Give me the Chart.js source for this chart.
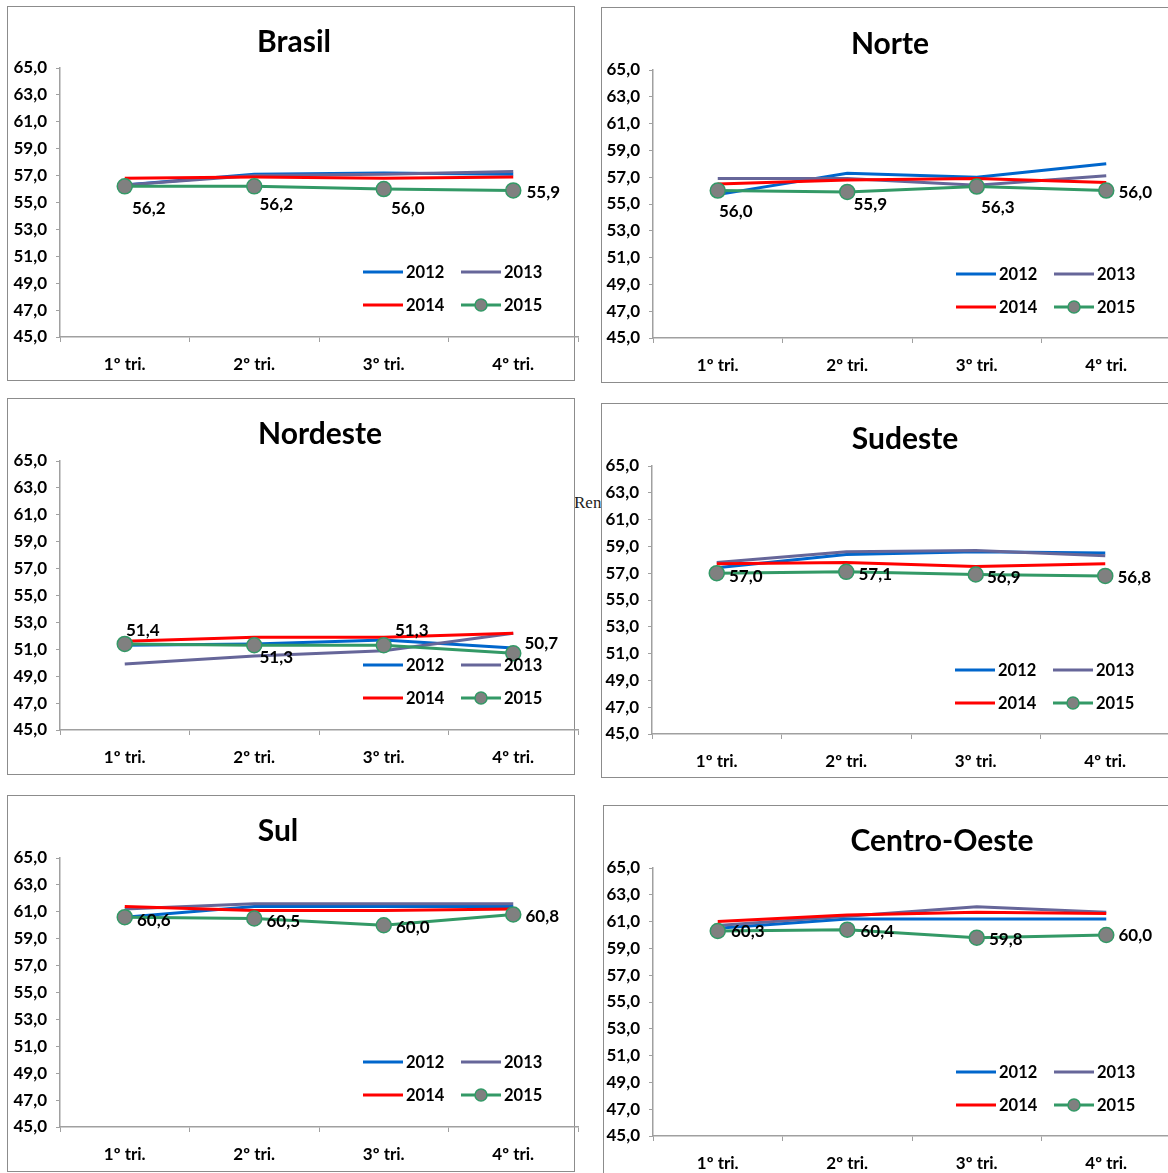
<!DOCTYPE html>
<html>
<head>
<meta charset="utf-8">
<script src="https://cdn.jsdelivr.net/npm/chart.js@4.4.1/dist/chart.umd.min.js"></script>
<style>
  html, body { margin: 0; padding: 0; background: #fff; }
  body { width: 1168px; height: 1173px; position: relative; overflow: hidden; }
  .panel { position: absolute; border: 1.5px solid #8c8c8c; background: #fff; box-sizing: border-box; z-index: 1; }
  canvas { position: absolute; z-index: 2; }
  .stray { position: absolute; left: 574px; top: 493px; font: 17px "Liberation Serif", serif; color: #222; z-index: 0; }
</style>
</head>
<body>
<div class="stray">Rendimento</div>
<script>
const quarters = ['1º tri.', '2º tri.', '3º tri.', '4º tri.'];
const years = ['2012', '2013', '2014', '2015'];
const yTicks = [45, 47, 49, 51, 53, 55, 57, 59, 61, 63, 65];

const brasil2012 = [56.3, 57.1, 57.2, 57.1];
const brasil2013 = [56.3, 57.0, 57.1, 57.3];
const brasil2014 = [56.8, 56.9, 56.8, 56.9];
const brasil2015 = [56.2, 56.2, 56.0, 55.9];

const norte2012 = [55.7, 57.3, 57.0, 58.0];
const norte2013 = [56.9, 56.9, 56.4, 57.1];
const norte2014 = [56.5, 56.8, 56.9, 56.6];
const norte2015 = [56.0, 55.9, 56.3, 56.0];

const nordeste2012 = [51.3, 51.4, 51.7, 51.1];
const nordeste2013 = [49.9, 50.5, 50.9, 52.2];
const nordeste2014 = [51.6, 51.9, 51.9, 52.2];
const nordeste2015 = [51.4, 51.3, 51.3, 50.7];

const sudeste2012 = [57.4, 58.4, 58.6, 58.5];
const sudeste2013 = [57.8, 58.6, 58.7, 58.3];
const sudeste2014 = [57.7, 57.8, 57.5, 57.7];
const sudeste2015 = [57.0, 57.1, 56.9, 56.8];

const sul2012 = [60.6, 61.4, 61.4, 61.4];
const sul2013 = [61.2, 61.6, 61.6, 61.6];
const sul2014 = [61.4, 61.1, 61.1, 61.2];
const sul2015 = [60.6, 60.5, 60.0, 60.8];

const centro2012 = [60.5, 61.2, 61.2, 61.2];
const centro2013 = [60.7, 61.4, 62.1, 61.7];
const centro2014 = [61.0, 61.5, 61.7, 61.6];
const centro2015 = [60.3, 60.4, 59.8, 60.0];

const colors = ['#0066CC', '#666699', '#FF0000', '#339966'];
const fontFamily = 'Lato, "Open Sans", sans-serif';
const axisColor = '#a0a0a0';

// layout of each chart box on the page (borders, axis origin, title spot, data label offsets)
const panels = [
  { title: 'Brasil', series: [brasil2012, brasil2013, brasil2014, brasil2015],
    box: [7, 6, 568, 375], axisX: 60, top: 68, bottom: 337, titleAt: [294, 42],
    labelOff: [[24, 22], [22, 18], [24, 19], [30, 2]] },
  { title: 'Norte', series: [norte2012, norte2013, norte2014, norte2015],
    box: [601, 7, 600, 376], axisX: 653, top: 70, bottom: 338, titleAt: [890, 44],
    labelOff: [[18, 21], [23, 13], [21, 21], [29, 2]] },
  { title: 'Nordeste', series: [nordeste2012, nordeste2013, nordeste2014, nordeste2015],
    box: [7, 398, 568, 377], axisX: 60, top: 461, bottom: 730, titleAt: [320, 434],
    labelOff: [[18, -13], [22, 12], [28, -15], [28, -10]] },
  { title: 'Sudeste', series: [sudeste2012, sudeste2013, sudeste2014, sudeste2015],
    box: [601, 403, 600, 375], axisX: 652, top: 466, bottom: 734, titleAt: [905, 439],
    labelOff: [[29, 3], [29, 3], [28, 3], [29, 2]] },
  { title: 'Sul', series: [sul2012, sul2013, sul2014, sul2015],
    box: [7, 795, 568, 377], axisX: 60, top: 858, bottom: 1127, titleAt: [278, 831],
    labelOff: [[29, 3], [29, 3], [29, 2], [29, 2]] },
  { title: 'Centro-Oeste', series: [centro2012, centro2013, centro2014, centro2015],
    box: [603, 805, 600, 400], axisX: 653, top: 868, bottom: 1136, titleAt: [942, 841],
    labelOff: [[30, 1], [30, 2], [29, 2], [29, 1]] },
];

const fmt = (v) => v.toFixed(1).replace('.', ',');

// title, 2x2 legend and the 2015 value labels
const panelDecor = {
  id: 'panelDecor',
  afterDatasetsDraw(chart, args, opts) {
    const ctx = chart.ctx;
    const area = chart.chartArea;
    ctx.save();
    ctx.fillStyle = '#000';

    // value labels
    ctx.font = 'bold 17px ' + fontFamily;
    ctx.textAlign = 'center';
    ctx.textBaseline = 'middle';
    const last = chart.data.datasets.length - 1;
    chart.getDatasetMeta(last).data.forEach((pt, i) => {
      const off = opts.labelOff[i];
      ctx.fillText(fmt(chart.data.datasets[last].data[i]), pt.x + off[0], pt.y + off[1]);
    });

    // legend
    ctx.font = 'bold 16.5px ' + fontFamily;
    ctx.textAlign = 'left';
    chart.data.datasets.forEach((ds, i) => {
      const x0 = area.left + 303 + (i % 2) * 98;
      const y0 = area.top + 204 + Math.floor(i / 2) * 33;
      ctx.strokeStyle = ds.borderColor;
      ctx.lineWidth = 3;
      ctx.beginPath();
      ctx.moveTo(x0, y0);
      ctx.lineTo(x0 + 40, y0);
      ctx.stroke();
      if (ds.pointRadius > 0) {
        ctx.beginPath();
        ctx.arc(x0 + 20, y0, 6, 0, Math.PI * 2);
        ctx.fillStyle = ds.pointBackgroundColor;
        ctx.fill();
        ctx.lineWidth = 1.5;
        ctx.stroke();
      }
      ctx.fillStyle = '#000';
      ctx.fillText(ds.label, x0 + 43, y0 + 1);
    });

    // title
    ctx.font = 'bold 30px ' + fontFamily;
    ctx.textAlign = 'center';
    ctx.fillText(opts.title, opts.titleX, opts.titleY);
    ctx.restore();
  }
};

const tickFont = { family: fontFamily, size: 17, weight: 'bold' };

panels.forEach((p) => {
  const div = document.createElement('div');
  div.className = 'panel';
  div.style.left = p.box[0] + 'px';
  div.style.top = p.box[1] + 'px';
  div.style.width = p.box[2] + 'px';
  div.style.height = p.box[3] + 'px';
  document.body.appendChild(div);

  const left = p.axisX - 60;
  const top = p.top - 70;
  const canvas = document.createElement('canvas');
  canvas.width = 590;
  canvas.height = 70 + (p.bottom - p.top) + 45;
  canvas.style.left = left + 'px';
  canvas.style.top = top + 'px';
  document.body.appendChild(canvas);

  new Chart(canvas.getContext('2d'), {
    type: 'line',
    data: {
      labels: quarters,
      datasets: p.series.map((values, i) => ({
        label: years[i],
        data: values,
        borderColor: colors[i],
        borderWidth: 3,
        tension: 0,
        order: 4 - i,
        pointRadius: i === 3 ? 7.5 : 0,
        pointBackgroundColor: '#808080',
        pointBorderColor: colors[3],
        pointBorderWidth: 1.5,
      }))
    },
    options: {
      responsive: false,
      animation: false,
      layout: { padding: { top: 70, right: 12, left: 0, bottom: 0 } },
      plugins: {
        legend: { display: false },
        tooltip: { enabled: false },
        panelDecor: {
          title: p.title,
          titleX: p.titleAt[0] - left,
          titleY: p.titleAt[1] - top,
          labelOff: p.labelOff,
        },
      },
      scales: {
        x: {
          offset: true,
          grid: { offset: true, drawOnChartArea: false, tickLength: 5, color: axisColor },
          border: { color: axisColor, width: 1.5 },
          ticks: { font: tickFont, color: '#000', padding: 12, maxRotation: 0 },
          afterFit: (s) => { s.height = 45; },
        },
        y: {
          min: yTicks[0],
          max: yTicks[yTicks.length - 1],
          afterBuildTicks: (s) => { s.ticks = yTicks.map(v => ({ value: v })); },
          ticks: { font: tickFont, color: '#000', padding: 9, callback: (v) => fmt(v) },
          grid: { drawOnChartArea: false, tickLength: 4, color: axisColor },
          border: { color: axisColor, width: 1.5 },
          afterFit: (s) => { s.width = 60; },
        },
      },
    },
    plugins: [panelDecor],
  });
});
</script>
</body>
</html>
